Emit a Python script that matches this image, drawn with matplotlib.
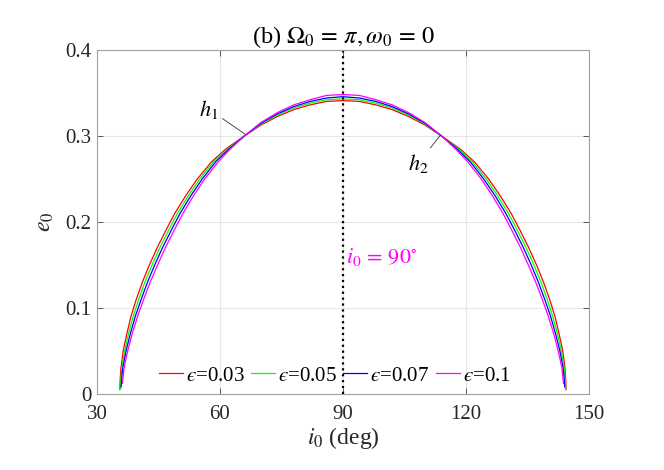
import matplotlib
matplotlib.use("Agg")
from matplotlib import pyplot as plt

plt.rcParams['font.family'] = ['Liberation Serif', 'DejaVu Serif']
plt.rcParams['mathtext.fontset'] = 'stix'

# curve data: inclination i0 (deg) and eccentricity e0
eps_labels = ['$\u03f5$=0.03', '$\u03f5$=0.05', '$\u03f5$=0.07', '$\u03f5$=0.1']
colors = ['#ff0000', '#00ff00', '#0000ff', '#ff00ff']

i_red = [35.6, 35.65, 35.85, 36.4, 37.3, 38.3, 39.6, 41.1, 42.8, 44.7, 46.8, 49.0, 51.6,
         54.5, 58.0, 61.5, 66.0, 70, 74, 78, 82, 86, 90, 94, 98, 102, 106, 110, 114.0,
         118.5, 122.0, 125.5, 128.4, 131.0, 133.2, 135.3, 137.2, 138.9, 140.4, 141.7,
         142.7, 143.6, 144.15, 144.35, 144.4]
e_red = [0.005, 0.015, 0.03, 0.05, 0.07, 0.09, 0.11, 0.13, 0.15, 0.17, 0.19, 0.21, 0.23,
         0.25, 0.27, 0.285, 0.30, 0.3125, 0.3225, 0.3305, 0.336, 0.340, 0.341, 0.340,
         0.336, 0.3305, 0.3225, 0.3125, 0.30, 0.285, 0.27, 0.25, 0.23, 0.21, 0.19, 0.17,
         0.15, 0.13, 0.11, 0.09, 0.07, 0.05, 0.03, 0.015, 0.005]

i_green = [35.7, 35.8, 36.05, 36.75, 37.7, 38.85, 40.2, 41.7, 43.45, 45.35, 47.45, 49.65,
           52.25, 55.1, 58.5, 61.9, 66.0, 70, 74, 78, 82, 86, 90, 94, 98, 102, 106, 110,
           114.0, 118.1, 121.5, 124.9, 127.75, 130.35, 132.55, 134.65, 136.55, 138.3,
           139.8, 141.15, 142.3, 143.25, 143.95, 144.2, 144.3]
e_green = [0.006, 0.015, 0.03, 0.05, 0.07, 0.09, 0.11, 0.13, 0.15, 0.17, 0.19, 0.21, 0.23,
           0.25, 0.27, 0.285, 0.30, 0.3135, 0.324, 0.3325, 0.338, 0.342, 0.343, 0.342,
           0.338, 0.3325, 0.324, 0.3135, 0.30, 0.285, 0.27, 0.25, 0.23, 0.21, 0.19, 0.17,
           0.15, 0.13, 0.11, 0.09, 0.07, 0.05, 0.03, 0.015, 0.006]

i_blue = [35.9, 36.0, 36.3, 37.1, 38.15, 39.35, 40.8, 42.35, 44.1, 46.0, 48.1, 50.3, 52.85,
          55.7, 59.0, 62.25, 66.0, 70, 74, 78, 82, 86, 90, 94, 98, 102, 106, 110, 114.0,
          117.75, 121.0, 124.3, 127.15, 129.7, 131.9, 134.0, 135.9, 137.65, 139.2, 140.65,
          141.85, 142.9, 143.7, 144.0, 144.1]
e_blue = [0.008, 0.015, 0.03, 0.05, 0.07, 0.09, 0.11, 0.13, 0.15, 0.17, 0.19, 0.21, 0.23,
          0.25, 0.27, 0.285, 0.30, 0.3145, 0.3255, 0.334, 0.340, 0.344, 0.3455, 0.344,
          0.340, 0.334, 0.3255, 0.3145, 0.30, 0.285, 0.27, 0.25, 0.23, 0.21, 0.19, 0.17,
          0.15, 0.13, 0.11, 0.09, 0.07, 0.05, 0.03, 0.015, 0.008]

i_mag = [36.2, 36.6, 37.5, 38.6, 39.9, 41.4, 43.0, 44.8, 46.7, 48.8, 51.0, 53.5, 56.3,
         59.6, 62.6, 66.0, 70, 74, 78, 82, 86, 90, 94, 98, 102, 106, 110, 114.0, 117.4,
         120.4, 123.7, 126.5, 129.0, 131.2, 133.3, 135.2, 137.0, 138.6, 140.1, 141.4,
         142.5, 143.4, 143.8]
e_mag = [0.012, 0.03, 0.05, 0.07, 0.09, 0.11, 0.13, 0.15, 0.17, 0.19, 0.21, 0.23, 0.25,
         0.27, 0.285, 0.30, 0.3155, 0.327, 0.336, 0.342, 0.347, 0.348, 0.347, 0.342,
         0.336, 0.327, 0.3155, 0.30, 0.285, 0.27, 0.25, 0.23, 0.21, 0.19, 0.17, 0.15,
         0.13, 0.11, 0.09, 0.07, 0.05, 0.03, 0.012]

curves = [(i_red, e_red), (i_green, e_green), (i_blue, e_blue), (i_mag, e_mag)]

fig = plt.figure(figsize=(6.64, 4.70), dpi=100)
ax = fig.add_axes([0.146, 0.162, 0.741, 0.732])

for (ii, ee), c, lab in zip(curves, colors, eps_labels):
    ax.plot(ii, ee, color=c, lw=0.9, label=lab)

ax.axvline(90, color='black', ls=':', lw=1.6)

ax.text(90.8, 0.159, r'$i_0\,=\,90^{\circ}$', color='#ff00ff', fontsize=16,
        ha='left', va='center')
# pointer lines for the two crossing points
ax.annotate(r'$h_1$', xy=(66.1, 0.302), xytext=(57.3, 0.331), fontsize=16,
            ha='center', va='center',
            arrowprops=dict(arrowstyle='-', color='#333333', lw=0.6, shrinkA=1, shrinkB=0))
ax.annotate(r'$h_2$', xy=(113.8, 0.301), xytext=(108.4, 0.268), fontsize=16,
            ha='center', va='center',
            arrowprops=dict(arrowstyle='-', color='#333333', lw=0.6, shrinkA=1, shrinkB=0))

ax.set_xlim(30, 150)
ax.set_ylim(0, 0.4)
ax.set_xticks([30, 60, 90, 120, 150])
ax.set_yticks([0, 0.1, 0.2, 0.3, 0.4])
ax.set_yticklabels(['0', '0.1', '0.2', '0.3', '0.4'])
ax.grid(True, color='#e6e6e6', lw=0.8)
ax.set_axisbelow(True)
for s in ax.spines.values():
    s.set_color('#a0a0a0')
    s.set_linewidth(0.8)
ax.tick_params(direction='in', length=4, width=0.6, color='#404040',
               labelsize=15, labelcolor='#262626', top=True, right=True)
ax.tick_params(axis='x', pad=8)
ax.tick_params(axis='y', pad=4)

ax.set_xlabel(r'$i_0$ (deg)', fontsize=17, color='#262626', labelpad=1)
ax.set_ylabel(r'$e_0$', fontsize=17, color='#262626', labelpad=7)
ax.set_title(r'(b) $\Omega_0\,=\,\pi,\omega_0\,=\,0$', fontsize=17.5, color='#000000', pad=5)

ax.legend(loc='center left', bbox_to_anchor=(0.126, 0.052), ncol=4, frameon=False,
          fontsize=15, handlelength=1.15, handletextpad=0.15, columnspacing=0.3,
          borderaxespad=0.0, borderpad=0.0)

fig.savefig('out.png', dpi=100)
